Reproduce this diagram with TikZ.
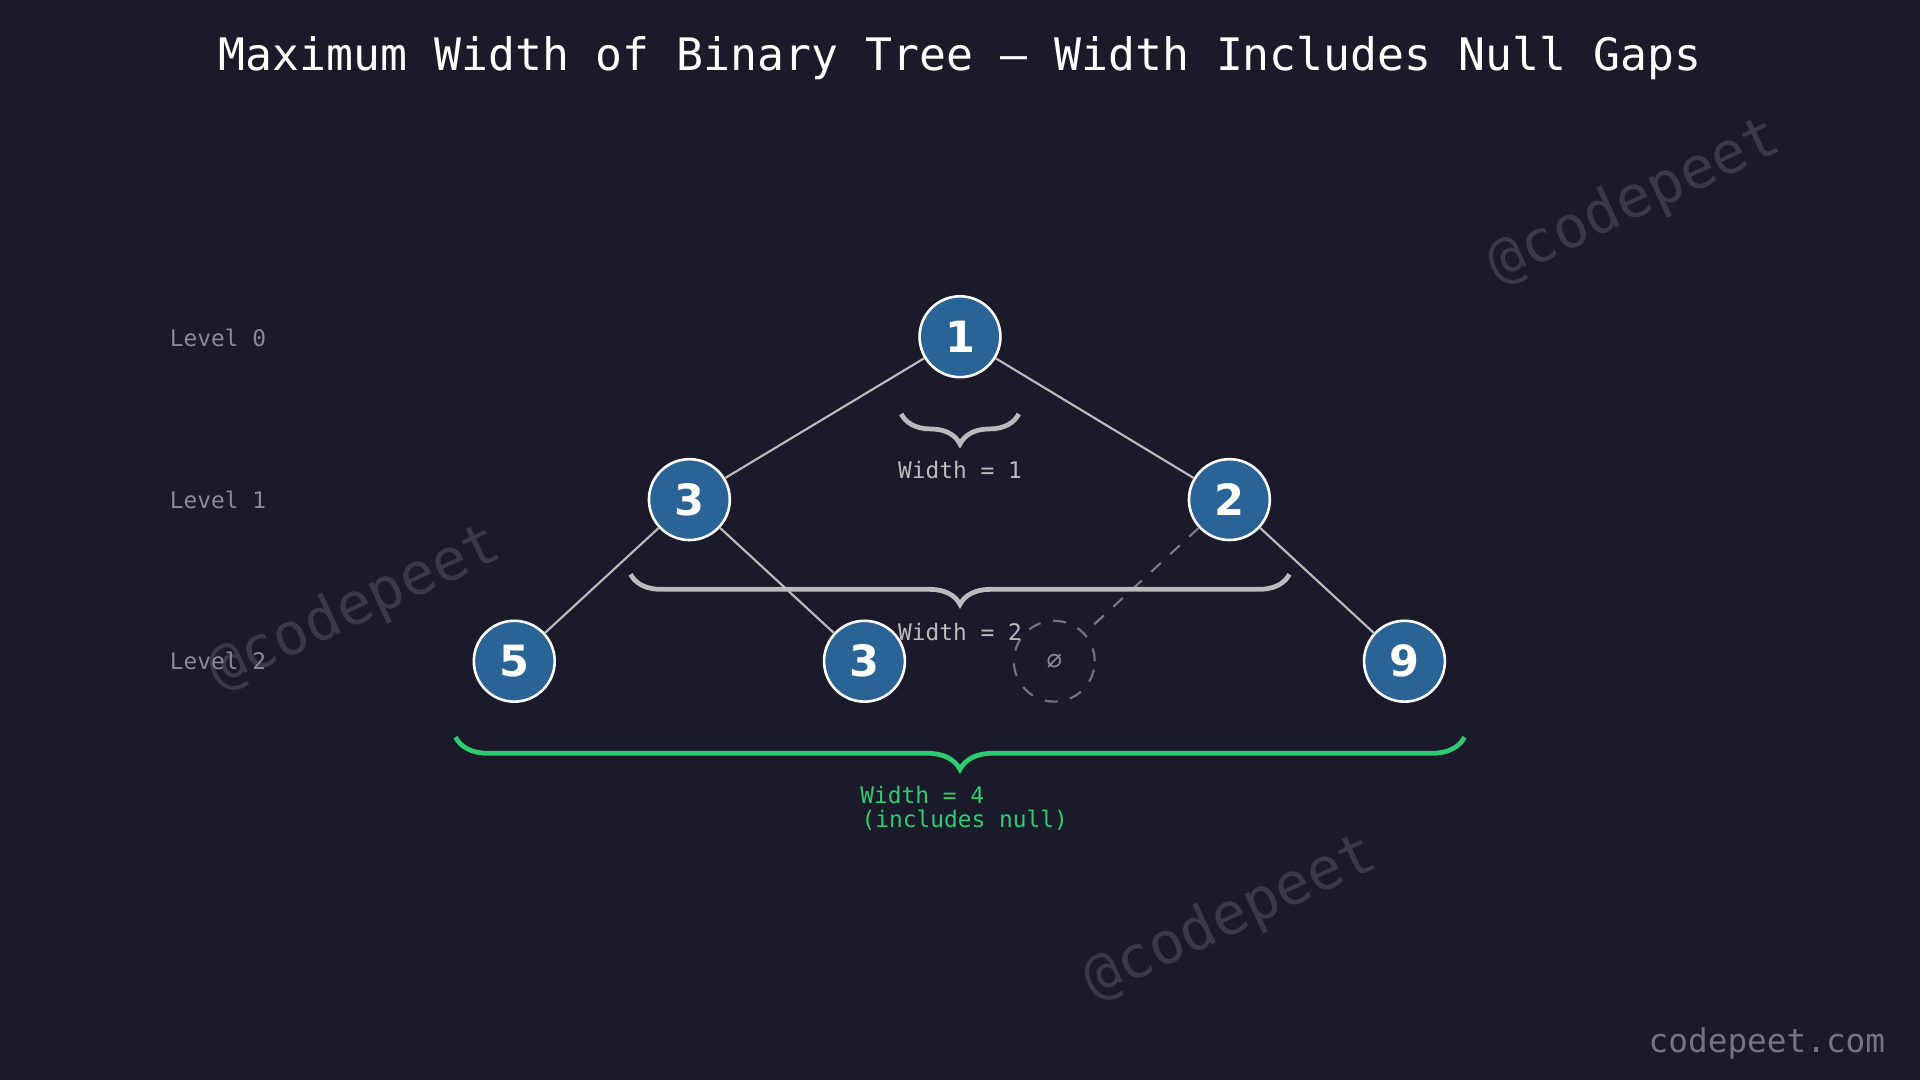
\documentclass[tikz,border=0pt]{standalone}
\usepackage{fontspec}
\setmainfont{DejaVu Sans}
\setmonofont{DejaVu Sans Mono}
\usetikzlibrary{decorations.pathreplacing}
\definecolor{bg}{HTML}{1B1A2B}
\definecolor{nodefill}{HTML}{2A6496}
\definecolor{edge}{HTML}{BBBBBB}
\definecolor{grn}{HTML}{2ECC71}
\definecolor{lvl}{HTML}{8A8A96}
\definecolor{wm}{HTML}{3A394B}
\begin{document}
\begin{tikzpicture}[x=0.01cm,y=-0.01cm,
  tn/.style={circle,fill=nodefill,draw=white,line width=0.6pt,minimum size=0.66cm,inner sep=0pt,text=white,font=\fontsize{10}{12}\selectfont\bfseries},
  nn/.style={circle,draw=edge!55!bg,dashed,line width=0.5pt,minimum size=0.66cm,inner sep=0pt,text=edge!70!bg,font=\fontsize{6}{7}\selectfont},
  ed/.style={draw=edge,line width=0.5pt},
  lv/.style={anchor=west,inner sep=0pt,text=lvl,font=\ttfamily\fontsize{5.3}{6}\selectfont},
  wl/.style={text=edge,font=\ttfamily\fontsize{5.3}{6}\selectfont},
  gl/.style={anchor=west,inner sep=0pt,text=grn,font=\ttfamily\fontsize{5.3}{6}\selectfont},
  br/.style={decorate,decoration={brace,mirror,amplitude=#1},line width=1.1pt},
  wmk/.style={text=wm,rotate=25,font=\ttfamily\fontsize{13.5}{15}\selectfont}]
\fill[bg] (0,0) rectangle (1568,882);
\node[text=white,font=\ttfamily\fontsize{10.4}{12}\selectfont] (title) at (784,47) {Maximum Width of Binary Tree — Width Includes Null Gaps};
\node[wmk] (w1) at (1335,165) {@codepeet};
\node[wmk] (w2) at (290,497) {@codepeet};
\node[wmk] (w3) at (1005,750) {@codepeet};
\node[text=wm!70!white,font=\ttfamily\fontsize{7.6}{9}\selectfont] (site) at (1443,852) {codepeet.com};
\node[lv] (l0) at (138,276) {Level 0};
\node[lv] (l1) at (138,408) {Level 1};
\node[lv] (l2) at (138,540) {Level 2};
\node[tn] (a) at (784,275) {1};
\node[tn] (b) at (563,408) {3};
\node[tn] (c) at (1004,408) {2};
\node[tn] (d) at (420,540) {5};
\node[tn] (e) at (706,540) {3};
\node[nn] (n) at (861,540) {\char"2300};
\node[tn] (f) at (1147,540) {9};
\draw[ed] (a) -- (b); \draw[ed] (a) -- (c);
\draw[ed] (b) -- (d); \draw[ed] (b) -- (e);
\draw[ed] (c) -- (f);
\draw[ed,dashed,draw=edge!60!bg] (c) -- (n);
\coordinate (b1l) at (736,338); \coordinate (b1r) at (832,338);
\draw[br=7pt,draw=edge] (b1l) -- (b1r);
\node[wl] (t1) at (784,384) {Width = 1};
\coordinate (b2l) at (515,469); \coordinate (b2r) at (1053,469);
\draw[br=7pt,draw=edge] (b2l) -- (b2r);
\node[wl] (t2) at (784,516) {Width = 2};
\coordinate (b3l) at (372,602); \coordinate (b3r) at (1196,602);
\draw[br=7.5pt,draw=grn] (b3l) -- (b3r);
\node[gl] (t3) at (702,649) {Width = 4};
\node[gl] (t4) at (703,670) {(includes null)};
\end{tikzpicture}
\end{document}
